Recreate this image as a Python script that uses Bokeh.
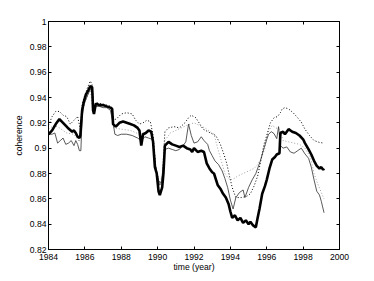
from bokeh.plotting import figure
from bokeh.models import LinearAxis, FixedTicker, PrintfTickFormatter, Range1d
from bokeh.embed import file_html
from bokeh.resources import INLINE

# ---------------- data ----------------
x_ticks = [1984, 1986, 1988, 1990, 1992, 1994, 1996, 1998, 2000]
y_ticks = [0.82, 0.84, 0.86, 0.88, 0.9, 0.92, 0.94, 0.96, 0.98, 1.0]

thick_t = [1984.00, 1984.2, 1984.4, 1984.6, 1984.8, 1985.0, 1985.1, 1985.3, 1985.4, 1985.5,
           1985.6, 1985.7, 1985.75, 1985.85, 1985.95, 1986.05, 1986.2, 1986.3, 1986.4, 1986.45,
           1986.5, 1986.6, 1986.8, 1987.0, 1987.2, 1987.4, 1987.5, 1987.55, 1987.7, 1987.9,
           1988.1, 1988.3, 1988.5, 1988.7, 1988.9, 1989.0, 1989.1, 1989.2, 1989.35, 1989.5,
           1989.65, 1989.75, 1989.85, 1989.95, 1990.05, 1990.12, 1990.25, 1990.32, 1990.4, 1990.6,
           1990.8, 1991.0, 1991.2, 1991.4, 1991.6, 1991.8, 1991.9, 1992.0, 1992.2, 1992.4,
           1992.55, 1992.7, 1992.85, 1993.0, 1993.1, 1993.3, 1993.45, 1993.6, 1993.75, 1993.9,
           1994.0, 1994.1, 1994.25, 1994.4, 1994.55, 1994.7, 1994.85, 1995.0, 1995.1, 1995.25,
           1995.4, 1995.5, 1995.6, 1995.75, 1995.9, 1996.0, 1996.15, 1996.3, 1996.45, 1996.55,
           1996.7, 1996.75, 1996.9, 1997.0, 1997.2, 1997.4, 1997.6, 1997.8, 1998.0, 1998.1,
           1998.3, 1998.45, 1998.6, 1998.75, 1998.9, 1999.0, 1999.1, 1999.15]
thick_v = [0.911, 0.914, 0.919, 0.923, 0.920, 0.917, 0.9155, 0.913, 0.914, 0.912,
           0.909, 0.908, 0.910, 0.930, 0.937, 0.942, 0.946, 0.949, 0.948, 0.930,
           0.927, 0.935, 0.934, 0.934, 0.933, 0.932, 0.931, 0.919, 0.917, 0.920,
           0.921, 0.920, 0.919, 0.918, 0.916, 0.914, 0.902, 0.911, 0.912, 0.914,
           0.913, 0.905, 0.885, 0.880, 0.866, 0.863, 0.869, 0.880, 0.902, 0.905,
           0.903, 0.902, 0.901, 0.902, 0.900, 0.899, 0.897, 0.900, 0.897, 0.898,
           0.897, 0.888, 0.884, 0.881, 0.880, 0.871, 0.868, 0.864, 0.861, 0.856,
           0.850, 0.845, 0.847, 0.843, 0.845, 0.841, 0.843, 0.840, 0.842, 0.839,
           0.8375, 0.845, 0.852, 0.864, 0.870, 0.875, 0.884, 0.891, 0.893, 0.895,
           0.896, 0.912, 0.913, 0.911, 0.915, 0.913, 0.912, 0.910, 0.907, 0.904,
           0.899, 0.895, 0.890, 0.886, 0.884, 0.885, 0.883, 0.884]

thin_t = [1984.0, 1984.2, 1984.35, 1984.5, 1984.65, 1984.8, 1984.95, 1985.1, 1985.25, 1985.4,
          1985.5, 1985.6, 1985.7, 1985.78, 1985.85, 1985.95, 1986.1, 1986.25, 1986.35, 1986.42,
          1986.5, 1986.6, 1986.8, 1987.0, 1987.2, 1987.4, 1987.55, 1987.65, 1987.8, 1988.0,
          1988.3, 1988.6, 1988.9, 1989.1, 1989.3, 1989.5, 1989.7, 1989.8, 1989.9, 1990.0,
          1990.1, 1990.2, 1990.3, 1990.4, 1990.6, 1990.8, 1991.0, 1991.2, 1991.4, 1991.55,
          1991.7, 1991.85, 1992.0, 1992.2, 1992.4, 1992.55, 1992.75, 1992.85, 1993.0, 1993.15,
          1993.35, 1993.55, 1993.7, 1993.85, 1994.0, 1994.15, 1994.3, 1994.5, 1994.7, 1994.8,
          1995.0, 1995.2, 1995.4, 1995.65, 1995.85, 1996.0, 1996.1, 1996.25, 1996.4, 1996.55,
          1996.65, 1996.75, 1996.9, 1997.1, 1997.3, 1997.5, 1997.7, 1997.9, 1998.1, 1998.3,
          1998.45, 1998.6, 1998.75, 1998.9, 1999.0, 1999.15]
thin_v = [0.911, 0.911, 0.912, 0.904, 0.906, 0.908, 0.903, 0.904, 0.906, 0.902,
          0.906, 0.903, 0.898, 0.898, 0.925, 0.935, 0.940, 0.945, 0.947, 0.945,
          0.928, 0.933, 0.933, 0.932, 0.932, 0.930, 0.920, 0.911, 0.910, 0.911,
          0.911, 0.910, 0.908, 0.906, 0.909, 0.908, 0.907, 0.898, 0.885, 0.878,
          0.871, 0.872, 0.885, 0.899, 0.900, 0.899, 0.898, 0.899, 0.902, 0.905,
          0.919, 0.910, 0.904, 0.905, 0.909, 0.906, 0.903, 0.898, 0.894, 0.890,
          0.887, 0.882, 0.876, 0.869, 0.859, 0.852, 0.861, 0.865, 0.867, 0.861,
          0.869, 0.875, 0.880, 0.890, 0.900, 0.907, 0.911, 0.913, 0.9115, 0.9075,
          0.917, 0.902, 0.900, 0.901, 0.897, 0.896, 0.898, 0.900, 0.8955, 0.892,
          0.885, 0.875, 0.866, 0.863, 0.858, 0.849]

dot_t = [1984.0, 1984.2, 1984.4, 1984.6, 1984.8, 1985.0, 1985.2, 1985.4, 1985.6, 1985.75,
         1985.85, 1986.0, 1986.15, 1986.3, 1986.4, 1986.5, 1986.6, 1986.9, 1987.2, 1987.45,
         1987.6, 1987.8, 1988.0, 1988.3, 1988.6, 1988.8, 1989.0, 1989.2, 1989.4, 1989.6,
         1989.75, 1989.9, 1990.05, 1990.15, 1990.25, 1990.4, 1990.6, 1990.9, 1991.2, 1991.5,
         1991.7, 1991.85, 1992.1, 1992.5, 1992.9, 1993.2, 1993.45, 1993.65, 1993.8, 1993.95,
         1994.1, 1994.3, 1994.6, 1994.9, 1995.1, 1995.3, 1995.5, 1995.7, 1995.85, 1996.0,
         1996.2, 1996.4, 1996.6, 1996.75, 1996.85, 1997.0, 1997.2, 1997.45, 1997.7, 1997.9,
         1998.1, 1998.35, 1998.6, 1998.9, 1999.15]
dot_v = [0.918, 0.925, 0.929, 0.929, 0.926, 0.925, 0.919, 0.922, 0.925, 0.915,
         0.935, 0.942, 0.948, 0.953, 0.950, 0.932, 0.936, 0.935, 0.934, 0.933,
         0.922, 0.924, 0.927, 0.928, 0.927, 0.922, 0.919, 0.920, 0.922, 0.921,
         0.910, 0.885, 0.875, 0.872, 0.875, 0.913, 0.916, 0.917, 0.916, 0.920,
         0.924, 0.926, 0.924, 0.915, 0.912, 0.910, 0.903, 0.895, 0.888, 0.878,
         0.869, 0.861, 0.861, 0.862, 0.864, 0.870, 0.878, 0.892, 0.903, 0.910,
         0.920, 0.924, 0.925, 0.928, 0.931, 0.932, 0.931, 0.928, 0.924, 0.9205,
         0.915, 0.910, 0.906, 0.9045, 0.904]

gray_t = [1984.0, 1984.3, 1984.6, 1985.0, 1985.4, 1985.7, 1985.85, 1986.1, 1986.3, 1986.45,
          1986.6, 1987.0, 1987.45, 1987.6, 1988.0, 1988.5, 1989.0, 1989.4, 1989.7, 1989.9,
          1990.1, 1990.3, 1990.4, 1990.7, 1991.0, 1991.3, 1991.6, 1992.0, 1992.3, 1992.6,
          1992.9, 1993.1, 1993.3, 1993.5, 1993.7, 1993.85, 1994.0, 1994.2, 1994.4, 1994.7,
          1995.0, 1995.3, 1995.5, 1995.7, 1995.9, 1996.05, 1996.3, 1996.5, 1996.7, 1996.9,
          1997.2, 1997.5, 1997.8, 1998.1, 1998.4, 1998.6, 1998.8, 1999.0, 1999.15]
gray_v = [0.915, 0.918, 0.916, 0.912, 0.911, 0.905, 0.928, 0.940, 0.946, 0.930,
          0.934, 0.933, 0.932, 0.916, 0.915, 0.914, 0.911, 0.913, 0.911, 0.885,
          0.872, 0.880, 0.906, 0.912, 0.914, 0.916, 0.918, 0.920, 0.918, 0.916,
          0.913, 0.911, 0.900, 0.890, 0.880, 0.877, 0.875, 0.876, 0.878, 0.880,
          0.882, 0.884, 0.887, 0.892, 0.900, 0.912, 0.918, 0.916, 0.915, 0.906,
          0.905, 0.904, 0.903, 0.900, 0.893, 0.880, 0.872, 0.865, 0.860]

# ---------------- figure ----------------
FONT = "Liberation Sans"
FS = "8.6px"

p = figure(width=370, height=277, output_backend="svg", toolbar_location=None,
           x_range=Range1d(1984, 2000), y_range=Range1d(0.82, 1.0),
           min_border_left=48, min_border_right=31, min_border_top=21, min_border_bottom=28,
           background_fill_color="white", border_fill_color="white")
p.grid.visible = False
p.outline_line_color = "black"
p.outline_line_width = 1

p.line(gray_t, gray_v, line_color="#a0a0a0", line_width=1, line_dash="1 2")
p.line(dot_t, dot_v, line_color="black", line_width=1, line_dash="1 2")
p.line(thin_t, thin_v, line_color="#303030", line_width=0.8)
p.line(thick_t, thick_v, line_color="black", line_width=2.6)

def style(ax, labels=True):
    ax.axis_line_color = "black"
    ax.major_tick_in = 3
    ax.major_tick_out = 0
    ax.minor_tick_in = 0
    ax.minor_tick_out = 0
    ax.major_tick_line_color = "black"
    ax.major_label_text_font = FONT
    ax.axis_label_text_font = FONT
    ax.axis_label_text_font_style = "normal"
    ax.axis_label_text_font_size = FS
    ax.axis_label_text_color = "black"
    if labels:
        ax.major_label_text_font_size = FS
        ax.major_label_text_color = "black"
    else:
        ax.major_label_text_font_size = "0px"
        ax.major_label_text_color = None
        ax.major_label_standoff = 0

xa = p.xaxis[0]
xa.ticker = FixedTicker(ticks=x_ticks)
xa.axis_label = "time (year)"
style(xa)
xa.major_label_standoff = 4
xa.axis_label_standoff = -1

ya = p.yaxis[0]
ya.ticker = FixedTicker(ticks=y_ticks)
ya.formatter = PrintfTickFormatter(format="%g")
ya.axis_label = "coherence"
style(ya)
ya.major_label_standoff = 2
ya.axis_label_standoff = 3

top = LinearAxis(ticker=FixedTicker(ticks=x_ticks))
style(top, labels=False)
p.add_layout(top, "above")
right = LinearAxis(ticker=FixedTicker(ticks=y_ticks))
style(right, labels=False)
p.add_layout(right, "right")

open("out.html", "w").write(file_html(p, INLINE))
